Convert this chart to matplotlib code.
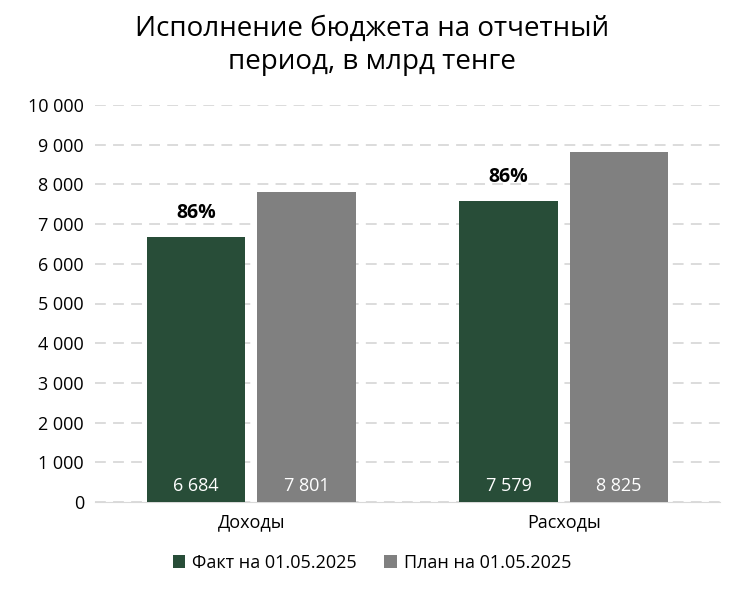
import matplotlib
matplotlib.use("Agg")
import matplotlib.pyplot as plt
import numpy as np

categories = ["Доходы", "Расходы"]
fact = [6684, 7579]
plan = [7801, 8825]
pct = ["86%", "86%"]
series_names = ["Факт на 01.05.2025", "План на 01.05.2025"]
yticks = list(range(0, 10001, 1000))

plt.rcParams["font.family"] = "Open Sans"
fig = plt.figure(figsize=(7.44, 5.93), dpi=100)
ax = fig.add_axes([95/744, 1-502/593, 625/744, 397/593])

x = np.arange(len(categories))
w = 0.316
off = 0.177
green = "#284D38"
grey = "#808080"
b1 = ax.bar(x - off, fact, w, color=green, label=series_names[0], zorder=3)
b2 = ax.bar(x + off, plan, w, color=grey, label=series_names[1], zorder=3)

def fmt(v):
    return f"{v:,}".replace(",", " ")

for xi, v in zip(x - off, fact):
    ax.text(xi, 400, fmt(v), ha="center", va="center", color="white", fontsize=13, zorder=4)
for xi, v in zip(x + off, plan):
    ax.text(xi, 400, fmt(v), ha="center", va="center", color="white", fontsize=13, zorder=4)
for xi, v, p in zip(x - off, fact, pct):
    ax.text(xi, v + 350, p, ha="center", va="bottom", fontsize=14, fontweight="bold", zorder=4)

ax.set_xlim(-0.5, 1.5)
ax.set_ylim(0, 10000)
ax.set_yticks(yticks)
ax.set_yticklabels([fmt(t) for t in yticks], fontsize=13)
ax.set_xticks(x)
ax.set_xticklabels(categories, fontsize=13)
ax.yaxis.grid(True, color="#D9D9D9", linestyle=(0, (6, 4)), linewidth=1.3, zorder=0)
for s in ["top", "right", "left"]:
    ax.spines[s].set_visible(False)
ax.spines["bottom"].set_color("#D9D9D9")
ax.tick_params(axis="both", length=0, pad=8)

fig.suptitle("Исполнение бюджета на отчетный\nпериод, в млрд тенге", y=0.975, fontsize=20, linespacing=1.25)
fig.legend(handles=[b1, b2], loc="center", bbox_to_anchor=(0.5, 1-563/593), ncol=2,
           frameon=False, fontsize=13, handlelength=0.7, handleheight=0.7, columnspacing=1.5, handletextpad=0.4)

fig.savefig("out.png", dpi=100)
